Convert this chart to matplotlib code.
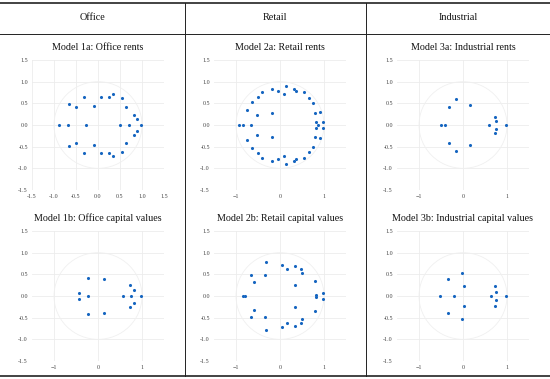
import numpy as np
import matplotlib.pyplot as plt
from matplotlib.lines import Line2D
from matplotlib.patches import Circle

plt.rcParams['font.family'] = ['Liberation Serif', 'DejaVu Serif']

headers = ['Office', 'Retail', 'Industrial']
titles = [['Model 1a: Office rents', 'Model 2a: Retail rents', 'Model 3a: Industrial rents'],
          ['Model 1b: Office capital values', 'Model 2b: Retail capital values',
           'Model 3b: Industrial capital values']]

office_rents_re = [-0.88, -0.68, -0.28, 0.50, 0.70, 0.98,
                   -0.66, -0.51, -0.32, -0.08, 0.07, 0.25, 0.34, 0.54, 0.63, 0.81, 0.89,
                   -0.66, -0.51, -0.32, -0.08, 0.07, 0.25, 0.34, 0.54, 0.63, 0.81, 0.89]
office_rents_im = [0, 0, 0, 0, 0, 0,
                   0.48, 0.41, 0.65, 0.45, 0.65, 0.65, 0.72, 0.62, 0.42, 0.23, 0.13,
                   -0.48, -0.41, -0.65, -0.45, -0.65, -0.65, -0.72, -0.62, -0.42, -0.23, -0.13]

retail_rents_re = [-0.93, -0.84, -0.66, 0.87,
                   -0.75, -0.63, -0.53, -0.49, -0.40, -0.19, -0.18, -0.04, 0.09, 0.13,
                   0.32, 0.37, 0.54, 0.66, 0.74, 0.79, 0.91, 0.81, 0.97,
                   -0.75, -0.63, -0.53, -0.49, -0.40, -0.19, -0.18, -0.04, 0.09, 0.13,
                   0.32, 0.37, 0.54, 0.66, 0.74, 0.79, 0.91, 0.81, 0.97]
retail_rents_im = [0, 0, 0, 0,
                   0.35, 0.52, 0.22, 0.65, 0.76, 0.83, 0.28, 0.78, 0.72, 0.90,
                   0.84, 0.78, 0.76, 0.62, 0.51, 0.28, 0.31, 0.08, 0.07,
                   -0.35, -0.52, -0.22, -0.65, -0.76, -0.83, -0.28, -0.78, -0.72, -0.90,
                   -0.84, -0.78, -0.76, -0.62, -0.51, -0.28, -0.31, -0.08, -0.07]

industrial_rents_re = [-0.50, -0.40, 0.60, 0.97,
                       -0.32, -0.15, 0.17, 0.72, 0.75,
                       -0.32, -0.15, 0.17, 0.72, 0.75]
industrial_rents_im = [0, 0, 0, 0,
                       0.42, 0.60, 0.46, 0.18, 0.09,
                       -0.42, -0.60, -0.46, -0.18, -0.09]

office_cv_re = [-0.23, 0.56, 0.75, 0.98,
                -0.44, -0.23, 0.13, 0.73, 0.82,
                -0.44, -0.23, 0.13, 0.73, 0.82]
office_cv_im = [0, 0, 0, 0,
                0.06, 0.41, 0.39, 0.25, 0.15,
                -0.06, -0.41, -0.39, -0.25, -0.15]

retail_cv_re = [-0.85, -0.79,
                -0.60, -0.66, -0.33, -0.31, 0.05, 0.15, 0.34, 0.34, 0.47, 0.51, 0.79, 0.82, 0.97,
                -0.60, -0.66, -0.33, -0.31, 0.05, 0.15, 0.34, 0.34, 0.47, 0.51, 0.79, 0.82, 0.97]
retail_cv_im = [0, 0,
                0.32, 0.48, 0.48, 0.78, 0.71, 0.63, 0.69, 0.25, 0.63, 0.52, 0.34, 0.03, 0.07,
                -0.32, -0.48, -0.48, -0.78, -0.71, -0.63, -0.69, -0.25, -0.63, -0.52, -0.34, -0.03, -0.07]

industrial_cv_re = [-0.53, -0.21, 0.64, 0.97,
                    -0.34, -0.02, 0.02, 0.73, 0.74,
                    -0.34, -0.02, 0.02, 0.73, 0.74]
industrial_cv_im = [0, 0, 0, 0,
                    0.40, 0.52, 0.22, 0.22, 0.10,
                    -0.40, -0.52, -0.22, -0.22, -0.10]

panels = [[(office_rents_re, office_rents_im), (retail_rents_re, retail_rents_im),
           (industrial_rents_re, industrial_rents_im)],
          [(office_cv_re, office_cv_im), (retail_cv_re, retail_cv_im),
           (industrial_cv_re, industrial_cv_im)]]

W, H = 550, 379
fig = plt.figure(figsize=(W / 100, H / 100), dpi=100)

dot_color = '#1565c0'
grid_color = '#ececec'

lefts = [32, 214, 397]
tops = [60, 231]
size = 132

for r in range(2):
    for c in range(3):
        ax = fig.add_axes([lefts[c] / W, (H - tops[r] - 130) / H, size / W, 130 / H])
        xs, ys = panels[r][c]
        ax.add_patch(Circle((0, 0), 1, fill=False, color='#f0f0f0', lw=0.6, zorder=1))
        ax.scatter(xs, ys, s=5, color=dot_color, zorder=3, linewidths=0)
        ax.set_xlim(-1.5, 1.5)
        ax.set_ylim(-1.5, 1.5)
        if r == 0 and c == 0:
            ax.set_xticks(np.arange(-1.5, 1.51, 0.5))
            ax.set_xticklabels(['%.1f' % v for v in np.arange(-1.5, 1.51, 0.5)])
        else:
            ax.set_xticks([-1, 0, 1])
        ax.set_yticks(np.arange(-1.5, 1.51, 0.5))
        ax.set_yticklabels(['%.1f' % v for v in np.arange(-1.5, 1.51, 0.5)])
        ax.grid(True, color=grid_color, lw=0.6, zorder=0)
        ax.set_axisbelow(True)
        ax.tick_params(length=0, labelsize=4.3, colors='#444444', pad=3)
        for s in ax.spines.values():
            s.set_visible(False)
        ax.set_title(titles[r][c], fontsize=7.2, pad=7, color='#111111')

# table rules
def hline(y, lw):
    fig.add_artist(Line2D([0, 1], [1 - y / H, 1 - y / H], color='#222222', lw=lw,
                          transform=fig.transFigure))

hline(3, 1.2)
hline(33.5, 0.7)
hline(375.5, 1.2)
for x in [184.5, 365.5]:
    fig.add_artist(Line2D([x / W, x / W], [1 - 3 / H, 1 - 375.5 / H], color='#222222',
                          lw=0.7, transform=fig.transFigure))

for x, h in zip([92, 275, 458], headers):
    fig.text(x / W, 1 - 18 / H, h, ha='center', va='center', fontsize=7.3, color='#111111')

fig.savefig('out.png', dpi=100, facecolor='white')
